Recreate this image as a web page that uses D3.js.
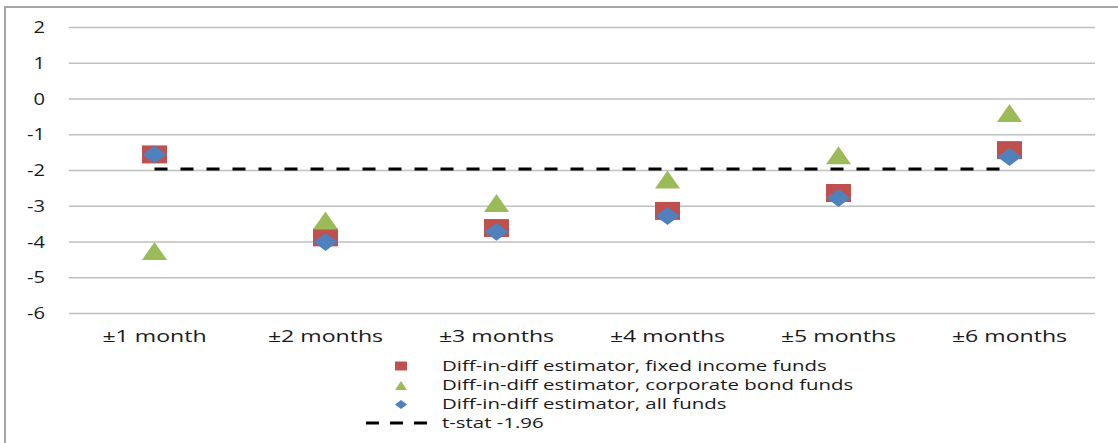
<!DOCTYPE html>
<html>
<head>
<meta charset="utf-8">
<script src="https://cdn.jsdelivr.net/npm/d3@7"></script>
<style>
  html, body { margin: 0; padding: 0; background: #fff; }
  svg { display: block; }
  text { font-family: "Open Sans", "Liberation Sans", sans-serif; fill: #1a1a1a; }
</style>
</head>
<body>
<svg id="chart" width="1118" height="443"></svg>
<script>
// Event windows around the announcement
const categories = ["±1 month", "±2 months", "±3 months", "±4 months", "±5 months", "±6 months"];

// Diff-in-diff estimates per window
const fixedIncome = [-1.55, -3.87, -3.61, -3.13, -2.63, -1.43];
const corporateBond = [-4.25, -3.40, -2.91, -2.25, -1.57, -0.39];
const allFunds = [-1.55, -4.00, -3.71, -3.27, -2.77, -1.62];

// Critical t-statistic reference line
const tStat = -1.96;

const yTicks = [2, 1, 0, -1, -2, -3, -4, -5, -6];

const legendLabels = [
  "Diff-in-diff estimator, fixed income funds",
  "Diff-in-diff estimator, corporate bond funds",
  "Diff-in-diff estimator, all funds",
  "t-stat -1.96"
];

const colors = { fixed: "#C0504D", corp: "#9BBB59", all: "#4F81BD" };

const svg = d3.select("#chart");

// Outer frame (left and top edges)
svg.append("path")
  .attr("d", "M5,443 L5,7 L1118,7")
  .attr("fill", "none")
  .attr("stroke", "#a6a6a6")
  .attr("stroke-width", 2);

const x = d3.scaleBand().domain(categories).range([69, 1095]);
const y = d3.scaleLinear().domain([-6, 2]).range([313.5, 27.5]);

// Horizontal gridlines
svg.append("g")
  .selectAll("line")
  .data(yTicks)
  .join("line")
  .attr("x1", x.range()[0])
  .attr("x2", x.range()[1])
  .attr("y1", d => y(d))
  .attr("y2", d => y(d))
  .attr("stroke", "#bfbfbf")
  .attr("stroke-width", 1.5);

// Y tick labels
svg.append("g")
  .selectAll("g")
  .data(yTicks)
  .join("g")
  .attr("transform", d => `translate(45,${y(d)}) scale(1.3,1)`)
  .append("text")
  .attr("text-anchor", "end")
  .attr("dy", "0.36em")
  .attr("font-size", 15.5)
  .text(d => d3.format("d")(d).replace("−", "-"));

// X category labels
svg.append("g")
  .selectAll("g")
  .data(categories)
  .join("g")
  .attr("transform", d => `translate(${x(d) + x.bandwidth() / 2},342) scale(1.4,1)`)
  .append("text")
  .attr("text-anchor", "middle")
  .attr("font-size", 16.5)
  .text(d => d);

const cx = d => x(d) + x.bandwidth() / 2;

// Marker shapes (w x h in px), centred at origin
const squarePath = (w, h) => `M${-w/2},${-h/2}H${w/2}V${h/2}H${-w/2}Z`;
const trianglePath = (w, h) => `M0,${-h/2}L${w/2},${h/2}L${-w/2},${h/2}Z`;
const diamondPath = (w, h) => `M0,${-h/2}L${w/2},0L0,${h/2}L${-w/2},0Z`;

const series = [
  { values: fixedIncome, color: colors.fixed, shape: squarePath, w: 25, h: 18 },
  { values: corporateBond, color: colors.corp, shape: trianglePath, w: 25, h: 18 },
  { values: allFunds, color: colors.all, shape: diamondPath, w: 24, h: 18 }
];

series.forEach(s => {
  svg.append("g")
    .selectAll("path")
    .data(categories.map((c, i) => ({ c, v: s.values[i] })))
    .join("path")
    .attr("transform", d => `translate(${cx(d.c)},${y(d.v)})`)
    .attr("d", s.shape(s.w, s.h))
    .attr("fill", s.color);
});

// Dashed t-stat line across the windows
const tLine = d3.line().x(d => cx(d)).y(() => y(tStat));
svg.append("path")
  .attr("d", tLine([categories[0], categories[categories.length - 1]]))
  .attr("fill", "none")
  .attr("stroke", "#000")
  .attr("stroke-width", 3)
  .attr("stroke-dasharray", "13,13");

// Legend
const legendRowY = [366, 385.5, 404.5, 423];
const legend = svg.append("g");
const legendMarkers = [
  { color: colors.fixed, shape: squarePath, w: 12, h: 9 },
  { color: colors.corp, shape: trianglePath, w: 12, h: 9 },
  { color: colors.all, shape: diamondPath, w: 12, h: 9 }
];
legendMarkers.forEach((m, i) => {
  legend.append("path")
    .attr("transform", `translate(401,${legendRowY[i]})`)
    .attr("d", m.shape(m.w, m.h))
    .attr("fill", m.color);
});
legend.append("line")
  .attr("x1", 366).attr("x2", 433)
  .attr("y1", legendRowY[3]).attr("y2", legendRowY[3])
  .attr("stroke", "#000")
  .attr("stroke-width", 3)
  .attr("stroke-dasharray", "13,11");

legend.selectAll("g.lbl")
  .data(legendLabels)
  .join("g")
  .attr("class", "lbl")
  .attr("transform", (d, i) => `translate(442,${legendRowY[i]}) scale(1.48,1)`)
  .append("text")
  .attr("dy", "0.36em")
  .attr("font-size", 13.8)
  .text(d => d);
</script>
</body>
</html>
